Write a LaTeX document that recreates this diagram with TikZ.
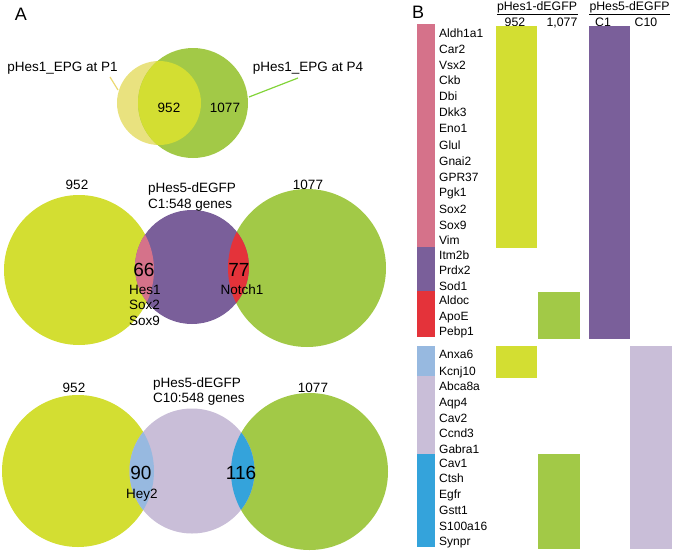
\documentclass[tikz,border=0pt]{standalone}
\usepackage{fontspec}
\setmainfont{Liberation Sans}
\definecolor{yel}{HTML}{D3DE32}
\definecolor{grn}{HTML}{A2C947}
\definecolor{lyel}{HTML}{E9E27F}
\definecolor{purp}{HTML}{7A5F9A}
\definecolor{pink}{HTML}{D5728A}
\definecolor{redc}{HTML}{E4333A}
\definecolor{lav}{HTML}{C9BED8}
\definecolor{lblue}{HTML}{97B9E0}
\definecolor{bluec}{HTML}{34A3DB}
\begin{document}
\begin{tikzpicture}[x=1pt,y=-1pt,
  lbl/.style={font=\fontsize{13.5}{16}\selectfont, inner sep=0pt, anchor=base},
  lbll/.style={font=\fontsize{13.5}{16}\selectfont, inner sep=0pt, anchor=base west},
  hdr/.style={font=\fontsize{12.3}{14}\selectfont, inner sep=0pt, anchor=base},
  gene/.style={font=\fontsize{12}{14}\selectfont, inner sep=0pt, anchor=base west},
  big/.style={font=\fontsize{19}{22}\selectfont, inner sep=0pt, anchor=base},
  panel/.style={font=\fontsize{18}{20}\selectfont, inner sep=0pt, anchor=base}]
\useasboundingbox (0,0) rectangle (675,552);

% ---------- Panel A ----------
\node[panel] (A) at (21,20.5) {A};

% top venn
\fill[lyel] (159,103) circle (42);
\fill[grn] (193,103) circle (55);
\begin{scope}
  \clip (159,103) circle (42);
  \fill[yel] (193,103) circle (55);
\end{scope}
\node[lbl] (t952) at (169,112) {952};
\node[lbl] (t1077) at (225,112) {1077};
\node[lbl] (lp1) at (62.5,71) {pHes1\_EPG at P1};
\node[lbl] (lp4) at (308,71) {pHes1\_EPG at P4};
\coordinate (p1a) at (110,77);
\coordinate (p1b) at (118,90);
\coordinate (p4a) at (298,78);
\coordinate (p4b) at (249,97);
\draw[lyel!85!black!0, draw=lyel!90!orange, line width=1.2pt] (p1a) -- (p1b);
\draw[draw=grn!80!green, line width=1.2pt] (p4a) -- (p4b);

% middle venn
\fill[yel] (79,270) circle (75);
\fill[grn] (307,268) circle (79);
\fill[purp] (192,267) circle (57);
\begin{scope}
  \clip (79,270) circle (75);
  \fill[pink] (192,267) circle (57);
\end{scope}
\begin{scope}
  \clip (307,268) circle (79);
  \fill[redc] (192,267) circle (57);
\end{scope}
\node[lbl] (m952) at (77,189) {952};
\node[lbl] (m1077) at (308,189) {1077};
\node[lbll] (mh1) at (148,192) {pHes5-dEGFP};
\node[lbll] (mh2) at (148,208) {C1:548 genes};
\node[big] (n66) at (144,276.8) {66};
\node[lbll] (hes1) at (129,294) {Hes1};
\node[lbll] (sox2) at (129,309) {Sox2};
\node[lbll] (sox9) at (129,325) {Sox9};
\node[big] (n77) at (239,276.8) {77};
\node[lbl] (notch) at (242,294) {Notch1};

% bottom venn
\fill[yel] (78,471) circle (76);
\fill[grn] (309.5,471.5) circle (78.5);
\fill[lav] (192,471) circle (62.5);
\begin{scope}
  \clip (78,471) circle (76);
  \fill[lblue] (192,471) circle (62.5);
\end{scope}
\begin{scope}
  \clip (309.5,471.5) circle (78.5);
  \fill[bluec] (192,471) circle (62.5);
\end{scope}
\node[lbl] (b952) at (74,392) {952};
\node[lbl] (b1077) at (313,392) {1077};
\node[lbll] (bh1) at (153,387) {pHes5-dEGFP};
\node[lbll] (bh2) at (153,402) {C10:548 genes};
\node[big] (n90) at (141,479.8) {90};
\node[lbl] (hey2) at (142,498) {Hey2};
\node[big] (n116) at (241,479.8) {116};

% ---------- Panel B ----------
\node[panel] (B) at (418,18.5) {B};

% header
\node[hdr] (h1) at (537,10.5) {pHes1-dEGFP};
\node[hdr] (h2) at (629.5,10.5) {pHes5-dEGFP};
\draw[line width=1pt] (497,14) -- (578,14);
\draw[line width=1pt] (589,14) -- (670,14);
\node[hdr] (c952) at (515,26.5) {952};
\node[hdr] (c1077) at (562,26.5) {1,077};
\node[hdr] (cc1) at (603,26.5) {C1};
\node[hdr] (cc10) at (646,26.5) {C10};

% left colour bars
\fill[pink] (417,24) rectangle (435,247);
\fill[purp] (417,247) rectangle (435,291);
\fill[redc] (417,291) rectangle (435,337);
\fill[lblue] (417,346) rectangle (435,376);
\fill[lav] (417,376) rectangle (435,454);
\fill[bluec] (417,454) rectangle (435,547);

% column bars
\fill[yel] (496,26) rectangle (537,248);
\fill[yel] (496,346) rectangle (537,378);
\fill[grn] (538,292) rectangle (580,339);
\fill[grn] (538,454) rectangle (580,549);
\fill[purp] (589,26) rectangle (630,339);
\fill[lav] (630,346) rectangle (672,549);

% gene labels
\foreach \g/\y in {Aldh1a1/33, Car2/49, Vsx2/65, Ckb/80, Dbi/96, Dkk3/112, Eno1/128,
  Glul/145, Gnai2/161, GPR37/177, Pgk1/192, Sox2/209, Sox9/225, Vim/240,
  Itm2b/255, Prdx2/270, Sod1/286, Aldoc/300, ApoE/316, Pebp1/331,
  Anxa6/354, Kcnj10/371, Abca8a/386, Aqp4/402, Cav2/418, Ccnd3/433, Gabra1/449,
  Cav1/463, Ctsh/478, Egfr/494, Gstt1/510, S100a16/526, Synpr/541}
  \node[gene] (g-\g) at (439,\y+4.3) {\g};
\end{tikzpicture}
\end{document}
